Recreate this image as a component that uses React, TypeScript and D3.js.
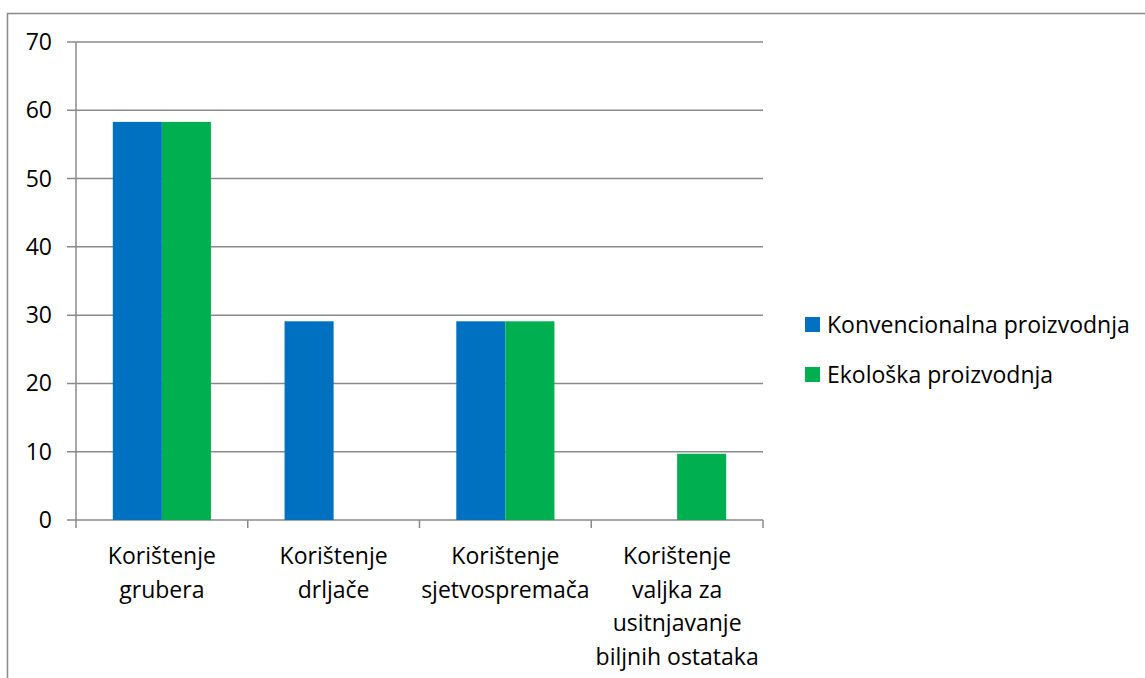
import React from 'react'
import * as d3 from 'd3'

// categories (multi-line labels) and series values
const categories = [
  ['Korištenje', 'grubera'],
  ['Korištenje', 'drljače'],
  ['Korištenje', 'sjetvospremača'],
  ['Korištenje', 'valjka za', 'usitnjavanje', 'biljnih ostataka'],
]
const seriesNames = ['Konvencionalna proizvodnja', 'Ekološka proizvodnja']
const konvencionalna = [58.3, 29.1, 29.1, 0]
const ekoloska = [58.3, 0, 29.1, 9.7]
const yTicks = [0, 10, 20, 30, 40, 50, 60, 70]

const COLORS = ['#0070C0', '#00B050']
const GRID = '#8a8a8a'
const FONT = '"Open Sans", "Noto Sans", sans-serif'
const FS = 23

const W = 1145
const H = 678
const X0 = 76, X1 = 763
const Y0 = 520, Y1 = 42

export default function App() {
  const svgRef = React.useRef<SVGSVGElement>(null)

  React.useEffect(() => {
    const svg = d3.select(svgRef.current!)
    svg.selectAll('*').remove()

    const keys = categories.map((_, i) => String(i))
    const x = d3.scaleBand<string>().domain(keys).range([X0, X1]).padding(0)
    const xs = d3.scaleBand<string>().domain(['0', '1'])
      .range([0, x.bandwidth()]).paddingInner(0).paddingOuter(0.75)
    const y = d3.scaleLinear().domain([0, 70]).range([Y0, Y1])

    // outer chart border
    svg.append('rect')
      .attr('x', 7.5).attr('y', 13.5).attr('width', W + 20).attr('height', H + 20)
      .attr('fill', 'none').attr('stroke', GRID).attr('stroke-width', 1.5)

    // gridlines + y ticks
    const g = svg.append('g')
    yTicks.forEach(t => {
      g.append('line')
        .attr('x1', X0 - 9).attr('x2', X1).attr('y1', y(t)).attr('y2', y(t))
        .attr('stroke', GRID).attr('stroke-width', 1.5)
      g.append('text')
        .attr('x', 52).attr('y', y(t)).attr('dy', '0.35em')
        .attr('text-anchor', 'end').attr('font-family', FONT).attr('font-size', FS)
        .attr('fill', '#000').text(t)
    })

    // y axis line
    g.append('line')
      .attr('x1', X0).attr('x2', X0).attr('y1', Y1).attr('y2', Y0)
      .attr('stroke', GRID).attr('stroke-width', 1.5)

    // category tick marks
    const bounds = keys.map(k => x(k)!).concat([X1])
    bounds.forEach(b => {
      g.append('line')
        .attr('x1', b).attr('x2', b).attr('y1', Y0).attr('y2', Y0 + 8)
        .attr('stroke', GRID).attr('stroke-width', 1.5)
    })

    // bars
    const series = [konvencionalna, ekoloska]
    series.forEach((vals, si) => {
      svg.append('g').selectAll('rect')
        .data(vals.map((v, i) => ({ v, k: String(i) })).filter(d => d.v > 0))
        .join('rect')
        .attr('x', d => x(d.k)! + xs(String(si))!)
        .attr('width', xs.bandwidth())
        .attr('y', d => y(d.v))
        .attr('height', d => y(0) - y(d.v))
        .attr('fill', COLORS[si])
    })

    // category labels
    categories.forEach((lines, i) => {
      const cx = x(String(i))! + x.bandwidth() / 2
      const t = svg.append('text')
        .attr('text-anchor', 'middle').attr('font-family', FONT).attr('font-size', FS).attr('fill', '#000')
      lines.forEach((ln, j) => {
        t.append('tspan').attr('x', cx).attr('y', 564 + j * 33.5).text(ln)
      })
    })

    // legend
    seriesNames.forEach((name, i) => {
      const ly = 324.5 + i * 50
      svg.append('rect')
        .attr('x', 805).attr('y', ly - 7.5).attr('width', 15).attr('height', 15)
        .attr('fill', COLORS[i])
      svg.append('text')
        .attr('x', 827).attr('y', ly).attr('dy', '0.36em')
        .attr('font-family', FONT).attr('font-size', FS).attr('fill', '#000')
        .text(name)
    })
  }, [])

  return (
    <svg ref={svgRef} width={W} height={H}
      style={{ position: 'absolute', left: 0, top: 0, background: '#fff' }} />
  )
}
